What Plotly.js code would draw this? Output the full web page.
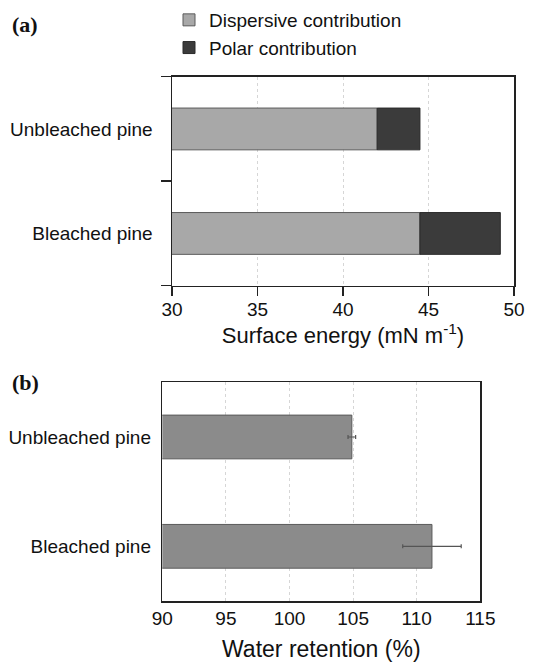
<!DOCTYPE html>
<html>
<head>
<meta charset="utf-8">
<script src="https://cdn.plot.ly/plotly-3.0.1.min.js"></script>
<style>
  html, body { margin: 0; padding: 0; background: #ffffff; }
  #chart { width: 540px; height: 663px; }
</style>
</head>
<body>
<div id="chart"></div>
<script>
// ---- data ----
const categories = ['Bleached pine', 'Unbleached pine'];
const dispersive = [44.5, 42.0];
const polar = [4.7, 2.5];
const waterRetention = [111.2, 104.9];
const waterError = [2.3, 0.3];
const surfaceTicks = [30, 35, 40, 45, 50];
const waterTicks = [90, 95, 100, 105, 110, 115];
const seriesNames = ['Dispersive contribution', 'Polar contribution'];

const FONT = 'Liberation Sans, Arial, sans-serif';
const W = 540, H = 663;
const px = v => v / W;
const py = v => 1 - v / H;

const traces = [
  {
    type: 'bar', orientation: 'h', name: seriesNames[0],
    y: categories, x: dispersive, base: 0,
    xaxis: 'x', yaxis: 'y', width: 0.4,
    marker: { color: '#a8a8a8', line: { color: '#5a5a5a', width: 1 } },
    legendgroup: 'd', hoverinfo: 'x+y'
  },
  {
    type: 'bar', orientation: 'h', name: seriesNames[1],
    y: categories, x: polar,
    base: dispersive,
    xaxis: 'x', yaxis: 'y', width: 0.4,
    marker: { color: '#3b3b3b', line: { color: '#2a2a2a', width: 1 } },
    legendgroup: 'p', hoverinfo: 'x+y'
  },
  {
    type: 'bar', orientation: 'h', name: 'Water retention',
    y: categories, x: waterRetention, base: 0,
    xaxis: 'x2', yaxis: 'y2', width: 0.4, showlegend: false,
    marker: { color: '#8b8b8b', line: { color: '#5a5a5a', width: 1 } },
    error_x: { type: 'data', array: waterError, visible: true, color: '#555555', thickness: 1.2, width: 2 }
  }
];

const axisCommon = {
  showline: true, mirror: true, linecolor: '#222222', linewidth: 1.5,
  zeroline: false, showgrid: true, gridcolor: '#d6d6d6', griddash: 'dot', gridwidth: 1,
  tickfont: { family: FONT, size: 19, color: '#111111' },
  automargin: false, fixedrange: true
};

const layout = {
  width: W, height: H,
  margin: { l: 0, r: 0, t: 0, b: 0 },
  paper_bgcolor: '#ffffff', plot_bgcolor: '#ffffff',
  barmode: 'overlay',
  showlegend: true,
  legend: {
    x: px(169), y: py(1), xanchor: 'left', yanchor: 'top',
    font: { family: FONT, size: 19, color: '#111111' },
    bgcolor: 'rgba(0,0,0,0)', tracegroupgap: 3, traceorder: 'normal'
  },
  xaxis: Object.assign({}, axisCommon, {
    domain: [px(172), px(514)], anchor: 'y', range: [30, 50],
    tickmode: 'array', tickvals: surfaceTicks, ticktext: surfaceTicks.map(String),
    ticks: 'outside', ticklen: 9, tickwidth: 1.5, tickcolor: '#222222',
    ticklabelstandoff: -3,
    title: { text: 'Surface energy (mN m<sup>-1</sup>)', font: { family: FONT, size: 22, color: '#111111' }, standoff: 0 }
  }),
  yaxis: Object.assign({}, axisCommon, {
    domain: [py(285.7), py(76.7)], anchor: 'x', type: 'category',
    categoryorder: 'array', categoryarray: categories, range: [-0.5, 1.5],
    showgrid: false, ticks: 'outside', tickson: 'boundaries', ticklen: 10, tickwidth: 1.5, tickcolor: '#222222',
    ticklabelstandoff: 14
  }),
  xaxis2: Object.assign({}, axisCommon, {
    domain: [px(162.3), px(480.3)], anchor: 'y2', range: [90, 115],
    tickmode: 'array', tickvals: waterTicks, ticktext: waterTicks.map(String),
    ticks: '',
    title: { text: 'Water retention (%)', font: { family: FONT, size: 23, color: '#111111' }, standoff: 12 }
  }),
  yaxis2: Object.assign({}, axisCommon, {
    domain: [py(601), py(382.3)], anchor: 'x2', type: 'category',
    categoryorder: 'array', categoryarray: categories, range: [-0.5, 1.5],
    showgrid: false, ticks: '', ticklabelstandoff: 6
  }),
  annotations: [
    { text: '<b>(a)</b>', xref: 'paper', yref: 'paper', x: px(10), y: py(25), xanchor: 'left', yanchor: 'middle',
      showarrow: false, font: { family: 'Liberation Serif, Times New Roman, serif', size: 22, color: '#111111' } },
    { text: '<b>(b)</b>', xref: 'paper', yref: 'paper', x: px(10), y: py(383), xanchor: 'left', yanchor: 'middle',
      showarrow: false, font: { family: 'Liberation Serif, Times New Roman, serif', size: 22, color: '#111111' } }
  ]
};

Plotly.newPlot('chart', traces, layout, { displayModeBar: false, staticPlot: true });
</script>
</body>
</html>
